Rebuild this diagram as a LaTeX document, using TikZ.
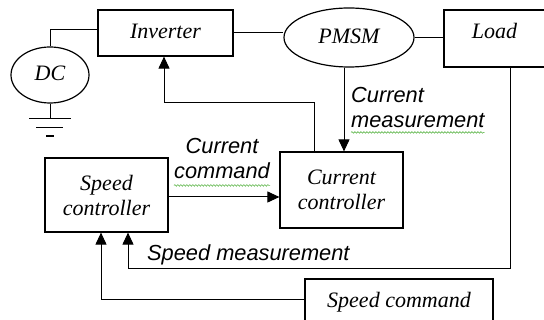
\documentclass[tikz,border=0pt]{standalone}
\usepackage{fontspec}
\setmainfont{Liberation Serif}
\newfontfamily\labelfont{Liberation Sans}
\usetikzlibrary{arrows.meta,shapes.geometric,decorations.pathmorphing,calc}

\definecolor{squig}{RGB}{90,180,70}

\begin{document}
\begin{tikzpicture}[x=1pt,y=-1pt,
  wire/.style={line width=1pt},
  arr/.style={wire,-{Triangle[length=12pt,width=11pt]}},
  blockfont/.style={font=\fontsize{22}{25}\selectfont\itshape},
  block/.style={draw,line width=1.2pt,rectangle,inner sep=0pt,blockfont,
    text height=16pt,text depth=4pt},
  twoline/.style={draw,line width=1.2pt,rectangle,inner sep=0pt,blockfont,align=center},
  oval/.style={draw,line width=1.2pt,ellipse,inner sep=0pt,blockfont,
    text height=16pt,text depth=4pt},
  sig/.style={inner sep=0pt,font=\labelfont\fontsize{21.8}{25}\selectfont\itshape},
  spell/.style={draw=squig,line width=0.6pt,decorate,
    decoration={snake,amplitude=0.8pt,segment length=3pt}}
]
\fill[white] (0,0) rectangle (544,320);
\clip (0,0) rectangle (544,320);

% blocks
\node[block, minimum width=135pt, minimum height=46pt] (inv) at (165.5,33) {Inverter};
\node[oval, minimum width=78pt, minimum height=56pt] (dc) at (50,75) {DC};
\node[oval, minimum width=130pt, minimum height=59pt] (pmsm) at (349,37.5) {PMSM};
\node[block, minimum width=101pt, minimum height=57pt, text depth=15pt] (load) at (494.5,38.5) {Load};
\node[twoline, minimum width=123pt, minimum height=74pt] (spc) at (106.5,195) {Speed\\controller};
\node[twoline, minimum width=123pt, minimum height=76pt] (cc) at (341.5,190) {Current\\controller};
\node[block, minimum width=188pt, minimum height=44pt, text depth=2pt] (scmd) at (399,301) {Speed command};

% ground symbol under the DC source
\coordinate (gnd) at ($(dc.south)+(0,15)$);
\draw[wire] (dc.south) -- (gnd);
\draw[wire] ($(gnd)+(-21,0)$) -- ($(gnd)+(21,0)$);
\draw[wire] ($(gnd)+(-14,9)$) -- ($(gnd)+(13,9)$);
\draw[line width=2pt] ($(gnd)+(-4,17)$) -- ($(gnd)+(4,17)$);

% power path
\draw[wire] (dc.north) |- ([yshift=3pt]inv.west);
\draw[wire] (inv.east) -- (inv.east -| pmsm.west);
\draw[wire] (pmsm.east) -- (pmsm.east -| load.west);

% control and feedback paths
\coordinate (cmin) at ([xshift=2.5pt]cc.north);
\draw[arr] (pmsm.south -| cmin) -- (cmin);
\draw[arr] ([xshift=-27.5pt]cc.north) -- ++(0,-49) -| ([xshift=-1.5pt]inv.south);
\draw[arr] ([yshift=-2pt]spc.east) -- ([yshift=-2pt]spc.east -| cc.west);
\draw[arr] ([xshift=15.5pt]load.south) -- ++(0,201) -| ([xshift=21.5pt]spc.south);
\draw[arr] ([yshift=1pt]scmd.west) -| ([xshift=-5.5pt]spc.south);

% signal labels
\node[sig, align=left, anchor=west] (cmeas) at (351,107)
  {\baselineskip=27pt Current\\measurement};
\node[sig, align=center] (ccmd) at (222,159) {Current\\command};
\node[sig, anchor=base west] (smeas) at (147,261) {Speed measurement};

% spell-check underlines
\draw[spell] ([yshift=-5pt]cmeas.south west) -- ([yshift=-5pt]cmeas.south east);
\draw[spell] ([yshift=-6pt]ccmd.south west) -- ([yshift=-6pt]ccmd.south east);
\end{tikzpicture}
\end{document}
